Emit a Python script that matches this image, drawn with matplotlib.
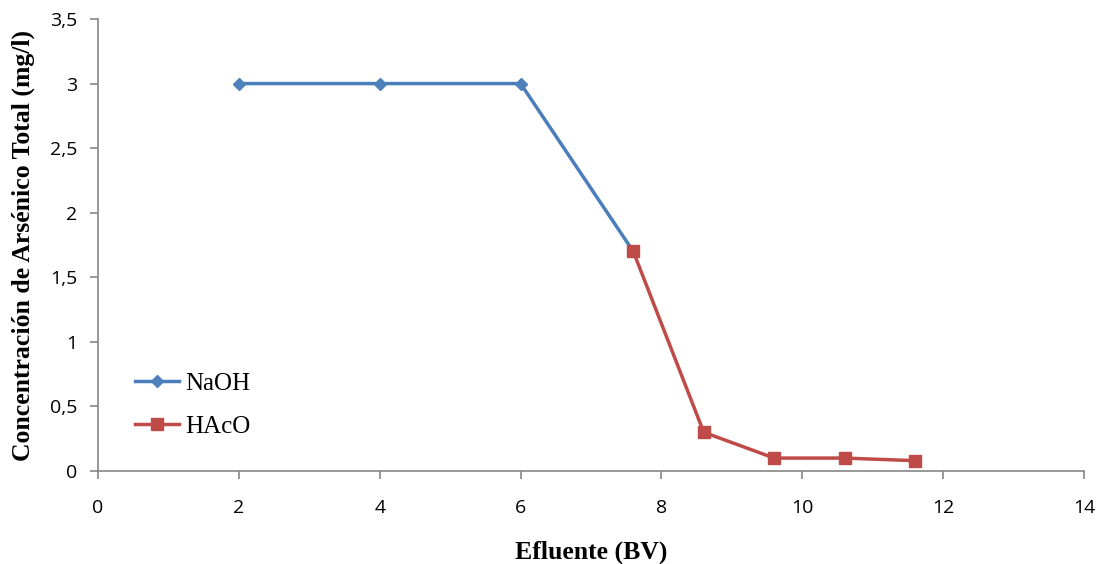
import matplotlib
matplotlib.use("Agg")
import matplotlib.pyplot as plt
from matplotlib.ticker import FuncFormatter

# data
naoh_x = [2, 4, 6, 7.6]
naoh_y = [3, 3, 3, 1.7]
hac_x = [7.6, 8.6, 9.6, 10.6, 11.6]
hac_y = [1.7, 0.3, 0.1, 0.1, 0.08]

BLUE = "#4A7EBB"
BLUE_MK = "#4F81BD"
RED = "#BE4B48"
AXIS_GRAY = "#868686"

fig = plt.figure(figsize=(10.99, 5.64), dpi=100)
ax = fig.add_axes([0.0892, 0.1649, 0.8972, 0.8014])

ax.plot(naoh_x, naoh_y, color=BLUE, lw=2.5, marker="D", ms=6,
        mfc=BLUE_MK, mec=BLUE_MK, label="NaOH", zorder=3)
ax.plot(hac_x, hac_y, color=RED, lw=2.5, marker="s", ms=8.5,
        mfc=RED, mec=RED, label="HAcO", zorder=4)

ax.set_xlim(0, 14)
ax.set_ylim(0, 3.5)
ax.set_xticks(range(0, 15, 2))
ax.set_yticks([0, 0.5, 1, 1.5, 2, 2.5, 3, 3.5])
ax.yaxis.set_major_formatter(FuncFormatter(lambda v, p: f"{v:g}".replace(".", ",")))

for s in ["top", "right"]:
    ax.spines[s].set_visible(False)
for s in ["left", "bottom"]:
    ax.spines[s].set_color(AXIS_GRAY)
    ax.spines[s].set_linewidth(1.2)
ax.tick_params(direction="out", length=6, width=1.2, color=AXIS_GRAY)
ax.tick_params(axis="x", pad=14)
ax.tick_params(axis="y", pad=9)
for lab in ax.get_xticklabels() + ax.get_yticklabels():
    lab.set_family("Open Sans")
    lab.set_fontsize(14)

ax.set_xlabel("Efluente (BV)", family="Liberation Serif", fontweight="bold",
              fontsize=18.5, labelpad=17)
ax.set_ylabel("Concentración de Arsénico Total (mg/l)", family="Liberation Serif",
              fontweight="bold", fontsize=18.5, labelpad=11)

leg = ax.legend(loc="lower left", bbox_to_anchor=(0.02, 0.035), frameon=False,
                prop={"family": "Liberation Serif", "size": 18},
                handlelength=1.75, handletextpad=0.25, labelspacing=0.8,
                borderpad=0.2)

fig.savefig("out.png", dpi=100)
